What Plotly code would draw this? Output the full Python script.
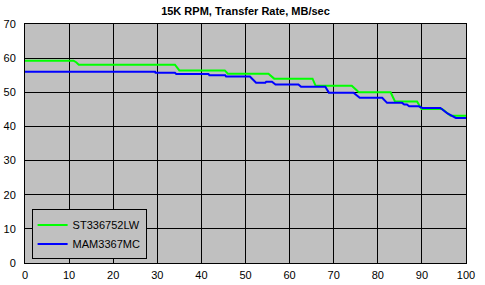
import plotly.graph_objects as go

title = "15K RPM, Transfer Rate, MB/sec"
series_names = ["ST336752LW", "MAM3367MC"]

st_x = [0, 11.0, 11.6, 12.2, 34.0, 35.0, 45.3, 46.0, 55.2, 56.5, 65.2, 65.9, 74.1, 75.7,
        82.9, 83.9, 88.9, 89.9, 94.6, 96.5, 100]
st_y = [59.25, 59.25, 58.8, 58.1, 58.1, 56.4, 56.4, 55.45, 55.45, 54.0, 54.0, 51.9, 51.9, 50.0,
        50.0, 47.3, 47.3, 45.1, 45.1, 43.1, 43.1]

mam_x = [0, 29.5, 29.6, 34.0, 34.3, 41.6, 41.8, 45.4, 45.6, 51.0, 52.4, 54.5, 54.7, 56.0,
         56.8, 62.0, 62.6, 68.1, 68.9, 74.5, 75.9, 81.0, 82.1, 85.5, 86.0, 86.6, 87.1,
         89.3, 90.1, 94.2, 95.8, 97.7, 100]
mam_y = [56.0, 56.0, 55.7, 55.7, 55.35, 55.35, 55.0, 55.0, 54.6, 54.6, 52.8, 52.8, 53.1, 53.1,
         52.3, 52.3, 51.6, 51.6, 49.9, 49.9, 48.4, 48.4, 46.9, 46.9, 46.4, 46.4, 45.9,
         45.9, 45.4, 45.4, 43.8, 42.5, 42.5]

x_ticks = list(range(0, 101, 10))
y_ticks = list(range(0, 71, 10))

fig = go.Figure()
fig.add_trace(go.Scatter(x=st_x, y=st_y, mode="lines", name=series_names[0],
                         line=dict(color="#00FF00", width=2)))
fig.add_trace(go.Scatter(x=mam_x, y=mam_y, mode="lines", name=series_names[1],
                         line=dict(color="#0000FF", width=2)))

font = "Liberation Sans, Arial, sans-serif"
fig.update_layout(
    width=485, height=285,
    margin=dict(l=25, r=19, t=24, b=22),
    paper_bgcolor="white", plot_bgcolor="#C0C0C0",
    font=dict(family=font, size=11, color="black"),
    title=dict(text="<b>" + title + "</b>", x=0.5, xref="paper", xanchor="center",
               y=1 - 11 / 285, yanchor="middle", font=dict(size=11, family=font)),
    showlegend=True,
    legend=dict(x=0.015, y=0.015, xanchor="left", yanchor="bottom",
                bgcolor="#C0C0C0", bordercolor="black", borderwidth=1,
                font=dict(size=11, family=font), tracegroupgap=0,
                itemwidth=30),
)
fig.update_xaxes(range=[0, 100], tickvals=x_ticks, showgrid=True, gridcolor="black",
                 gridwidth=1, zeroline=False, showline=True, linecolor="black",
                 linewidth=1, mirror=True, ticks="", tickfont=dict(size=11),
                 ticklabelstandoff=2, automargin=False)
fig.update_yaxes(range=[0, 70], tickvals=y_ticks, showgrid=True, gridcolor="black",
                 gridwidth=1, zeroline=False, showline=True, linecolor="black",
                 linewidth=1, mirror=True, ticks="", tickfont=dict(size=11),
                 ticklabelstandoff=6, automargin=False)

fig.write_html("out.html")
